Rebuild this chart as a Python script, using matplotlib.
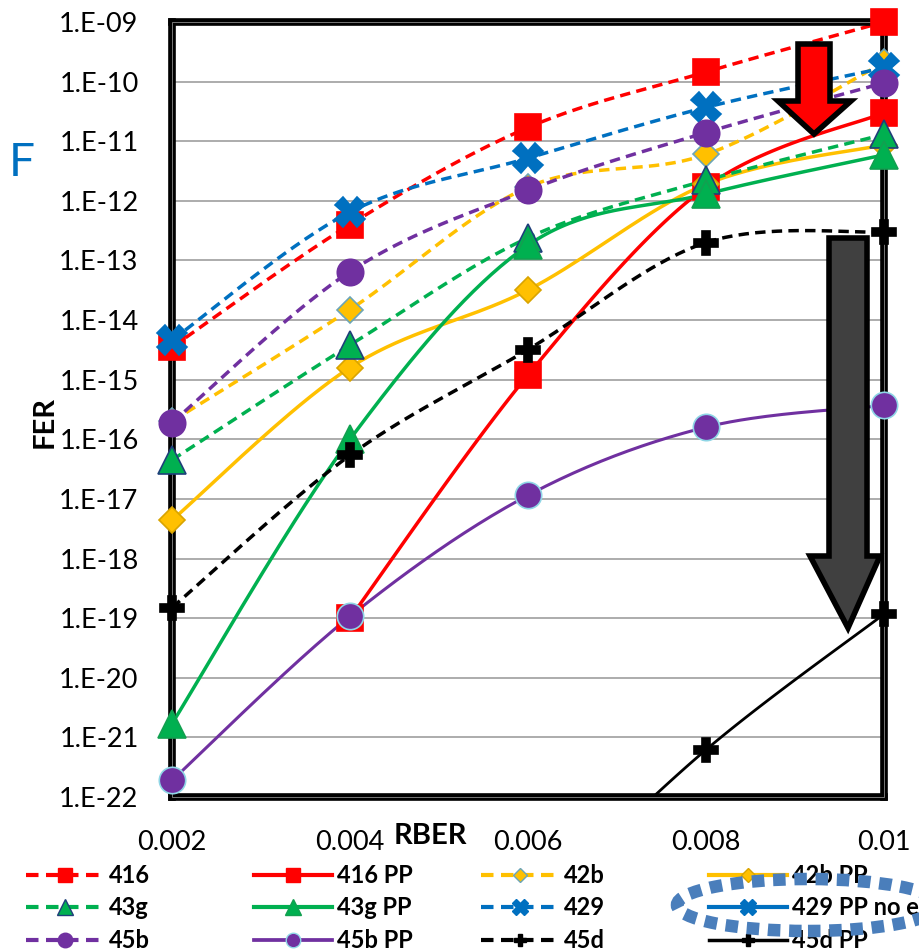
import numpy as np
import matplotlib
matplotlib.use('Agg')
import matplotlib.pyplot as plt
from matplotlib.lines import Line2D
from matplotlib.patches import Polygon, Ellipse, Rectangle

plt.rcParams['font.family'] = ['Lato', 'DejaVu Sans']

# RBER values on the x axis
rber = [0.002, 0.004, 0.006, 0.008, 0.01]
nan = np.nan

# FER, nan = not shown
fer_416 = [3.5e-15, 4.0e-13, 1.7e-11, 1.45e-10, 1.0e-9]
fer_416pp = [nan, 1.0e-19, 1.2e-15, 1.7e-12, 3.0e-11]
fer_42b = [2.0e-16, 1.5e-14, 1.7e-12, 6.0e-12, 2.1e-10]
fer_42bpp = [4.4e-18, 1.6e-15, 3.2e-14, 1.9e-12, 8.7e-12]
fer_43g = [4.5e-17, 3.8e-15, 2.4e-13, 2.2e-12, 1.3e-11]
fer_43gpp = [1.7e-21, 1.0e-16, 1.8e-13, 1.3e-12, 5.9e-12]
fer_429 = [4.6e-15, 6.5e-13, 5.2e-12, 3.7e-11, 1.7e-10]
fer_429pp = [nan, nan, nan, nan, nan]
fer_45b = [1.9e-16, 6.5e-14, 1.5e-12, 1.4e-11, 9.5e-11]
fer_45bpp = [1.9e-22, 1.07e-19, 1.15e-17, 1.6e-16, 3.7e-16]
fer_45d = [1.5e-19, 5.4e-17, 3.2e-15, 2.0e-13, 3.0e-13]
fer_45dpp = [nan, nan, 1.0e-24, 6.2e-22, 1.17e-19]

labels = ['416', '416 PP', '42b', '42b PP', '43g', '43g PP',
          '429', '429 PP no err', '45b', '45b PP', '45d', '45d PP']
values = [fer_416, fer_416pp, fer_42b, fer_42bpp, fer_43g, fer_43gpp,
          fer_429, fer_429pp, fer_45b, fer_45bpp, fer_45d, fer_45dpp]

RED, YEL, GRN, BLU, PUR, BLK = '#FF0000', '#FFC000', '#00B050', '#0070C0', '#7030A0', '#000000'
# colour, dashed?, marker, size, edge colour, line width
styles = [
    (RED, True, 's', 19, RED, 2.5),
    (RED, False, 's', 19, RED, 2.5),
    (YEL, True, 'D', 13, '#6BA5B8', 2.5),
    (YEL, False, 'D', 13, '#D9A400', 2.5),
    (GRN, True, '^', 20, '#1F3F7A', 2.5),
    (GRN, False, '^', 20, '#12A050', 2.5),
    (BLU, True, 'X', 21, BLU, 2.5),
    (BLU, False, 'X', 21, BLU, 2.5),
    (PUR, True, 'o', 19, PUR, 2.5),
    (PUR, False, 'o', 19, '#8FD6E6', 2.2),
    (BLK, True, 'P', 17, BLK, 2.5),
    (BLK, False, 'P', 17, BLK, 2.0),
]

YMIN, YMAX = 1e-22, 1e-9


def smooth(xs, ly, n=40):
    # excel-like smoothed line (catmull-rom bezier) in (x, log y)
    p = np.column_stack([xs, ly])
    out = []
    for i in range(len(p) - 1):
        p0 = p[i - 1] if i > 0 else p[i]
        p1, p2 = p[i], p[i + 1]
        p3 = p[i + 2] if i + 2 < len(p) else p[i + 1]
        c1 = p1 + (p2 - p0) / 6.0
        c2 = p2 - (p3 - p1) / 6.0
        t = np.linspace(0, 1, n)[:, None]
        seg = (1 - t) ** 3 * p1 + 3 * (1 - t) ** 2 * t * c1 + 3 * (1 - t) * t ** 2 * c2 + t ** 3 * p2
        out.append(seg if i == 0 else seg[1:])
    return np.vstack(out)


fig = plt.figure(figsize=(9.2, 9.5), dpi=100)
ax = fig.add_axes([172 / 920, 1 - 797 / 950, 712 / 920, 775 / 950])
ax.set_yscale('log')

handles = []
for lab, vals, st in zip(labels, values, styles):
    col, dashed, mk, ms, mec, lw = st
    x = np.array(rber)
    y = np.array(vals, dtype=float)
    ok = ~np.isnan(y)
    ls = (0, (3, 1.8)) if dashed else '-'
    if ok.sum() >= 2:
        c = smooth(x[ok], np.log10(y[ok]))
        ax.plot(c[:, 0], 10 ** c[:, 1], color=col, lw=lw, ls=ls, zorder=3)
    vis = ok & (y >= YMIN) & (y <= YMAX)
    ax.plot(x[vis], y[vis], ls='none', marker=mk, ms=ms, mfc=col, mec=mec,
            mew=1.2, zorder=5, clip_on=False)
    handles.append(Line2D([], [], color=col, lw=lw + 0.5, ls=ls, marker=mk,
                          ms=ms * 0.55, mfc=col, mec=mec, mew=1.0))

ax.set_xlim(0.002, 0.01)
ax.set_ylim(YMIN, YMAX)
ax.set_yticks([10.0 ** e for e in range(-22, -8)])
ax.set_yticklabels(['1.E-%02d' % (-e) for e in range(-22, -8)])
ax.minorticks_off()
ax.set_xticks(rber)
ax.set_xticklabels(['0.002', '0.004', '0.006', '0.008', '0.01'])
ax.tick_params(length=0, labelsize=19.5)
ax.tick_params(axis='y', pad=24)
ax.tick_params(axis='x', pad=24)
ax.grid(axis='y', color='#A6A6A6', lw=1.3)
ax.set_axisbelow(True)
for s in ax.spines.values():
    s.set_linewidth(5.5)
    s.set_color('black')
    s.set_zorder(4)
ax.add_patch(Rectangle((0, 0), 1, 1, transform=ax.transAxes, fill=False,
                       ec='#8A8A8A', lw=0.6, zorder=4.1, clip_on=False))

fig.text(45 / 920, 1 - 422 / 950, 'FER', rotation=90, fontsize=21, fontweight='bold',
         ha='center', va='center')
fig.text(430 / 920, 1 - 836 / 950, 'RBER', fontsize=21, fontweight='bold',
         ha='center', va='center')
fig.text(9 / 920, 1 - 163 / 950, 'F', fontsize=33, color='#0070C0',
         ha='left', va='center')


def px(pts):
    return [(a / 920, 1 - b / 950) for a, b in pts]


red_arrow = [(798, 44), (830, 44), (830, 101), (851, 101), (814, 134),
             (778, 101), (798, 101)]
fig.patches.append(Polygon(px(red_arrow), closed=True, fc='#FF0000', ec='black',
                           lw=4, joinstyle='miter', transform=fig.transFigure, zorder=6))
gray_arrow = [(829, 238), (867, 238), (867, 556), (880, 556), (848, 628),
              (810, 556), (829, 556)]
fig.patches.append(Polygon(px(gray_arrow), closed=True, fc='#404040', ec='black',
                           lw=4, joinstyle='miter', transform=fig.transFigure, zorder=6))

# legend: 4 columns, filled row by row
col_x = [30, 258, 485, 713]
for c in range(4):
    hs = [handles[r * 4 + c] for r in range(3)]
    ls_ = [labels[r * 4 + c] for r in range(3)]
    fig.legend(hs, ls_, loc='upper left', bbox_to_anchor=(col_x[c] / 920 - 0.004, 1 - 864 / 950),
               frameon=False, ncol=1, handlelength=3.3, handletextpad=0.2,
               labelspacing=0.4, borderpad=0, borderaxespad=0,
               prop={'weight': 'bold', 'size': 17})

fig.patches.append(Ellipse((808 / 920, 1 - 905 / 950), 262 / 920, 52 / 950,
                           fill=False, ec='#4A7EBB', lw=9, ls=(0, (1, 0.7)),
                           transform=fig.transFigure, zorder=7))

fig.savefig('out.png', dpi=100)
